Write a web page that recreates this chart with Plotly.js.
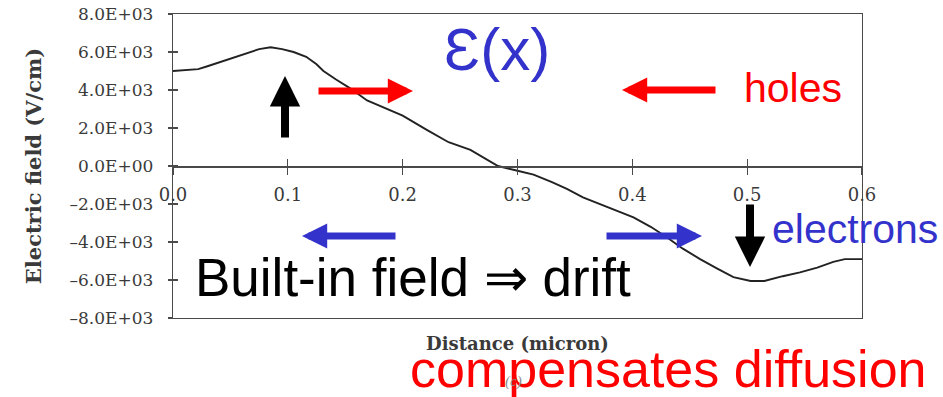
<!DOCTYPE html>
<html>
<head>
<meta charset="utf-8">
<script src="https://cdn.plot.ly/plotly-3.0.1.min.js"></script>
<style>html,body{margin:0;padding:0;background:#fff;}#chart{width:943px;height:397px;}</style>
</head>
<body>
<div id="chart"></div>
<script>
// Data
const distance = [0.000,0.010,0.022,0.030,0.045,0.060,0.075,0.085,0.095,0.105,0.116,0.125,0.131,0.142,0.154,0.169,0.185,0.200,0.221,0.240,0.259,0.283,0.300,0.314,0.330,0.343,0.357,0.372,0.386,0.401,0.416,0.430,0.444,0.459,0.474,0.488,0.503,0.515,0.531,0.546,0.561,0.575,0.585,0.600];
const field = [5000,5050,5100,5250,5550,5850,6150,6250,6150,6000,5750,5350,5000,4550,4100,3450,3050,2650,1900,1250,850,0,-250,-450,-850,-1200,-1650,-2000,-2350,-2700,-3200,-3750,-4350,-4900,-5400,-5850,-6050,-6050,-5800,-5600,-5350,-5050,-4900,-4900];
const xTickVals = [0,0.1,0.2,0.3,0.4,0.5,0.6];
const xTickText = ["0.0","0.1","0.2","0.3","0.4","0.5","0.6"];
const yTickVals = [8000,6000,4000,2000,0,-2000,-4000,-6000,-8000];
const yTickText = ["8.0E+03","6.0E+03","4.0E+03","2.0E+03","0.0E+00","\u20132.0E+03","\u20134.0E+03","\u20136.0E+03","\u20138.0E+03"];

const L = 173, R = 862, T = 14, B = 318;
const px = v => (v - L) / (R - L);
const py = v => (B - v) / (B - T);

const tickFont = {family: "DejaVu Serif", size: 17, color: "#3a3a3a"};
const axCol = "#4a4a4a";
const blue = "#3333cc", red = "#ff0000";

const traces = [
  {x: distance, y: field, type: "scatter", mode: "lines", line: {color: "#222222", width: 1.9}, hoverinfo: "skip", showlegend: false}
];

function arrow(tipX, tipY, ax, ay, color, w, s) {
  return {xref: "paper", yref: "paper", x: px(tipX), y: py(tipY), ax: ax, ay: ay, text: "",
    showarrow: true, arrowhead: 2, arrowwidth: w, arrowsize: s, arrowcolor: color, standoff: 0, startstandoff: 0};
}
function label(text, cx, cy, size, color, extra) {
  return Object.assign({xref: "paper", yref: "paper", x: px(cx), y: py(cy), text: text, showarrow: false,
    xanchor: "center", yanchor: "middle", font: {family: "Liberation Sans, Arial", size: size, color: color}}, extra || {});
}

const layout = {
  width: 943, height: 397,
  margin: {l: L, r: 943 - R, t: T, b: 397 - B, pad: 0},
  paper_bgcolor: "#ffffff", plot_bgcolor: "#ffffff",
  showlegend: false,
  xaxis: {range: [0, 0.6], anchor: "free", position: 0.5, tickvals: xTickVals, ticktext: xTickText,
    ticks: "outside", ticklen: 7, tickwidth: 1.2, tickcolor: axCol, showline: true, linecolor: axCol, linewidth: 1.5,
    showgrid: false, zeroline: false, tickfont: {family: "DejaVu Serif", size: 18, color: "#3a3a3a"}, ticklabelstandoff: 5, fixedrange: true},
  xaxis2: {range: [0, 0.6], overlaying: "x", anchor: "free", position: 0.5, tickvals: xTickVals,
    ticks: "inside", ticklen: 7, tickwidth: 1.2, tickcolor: axCol, showticklabels: false, showline: false,
    showgrid: false, zeroline: false},
  xaxis3: {range: [0, 0.6], overlaying: "x", anchor: "y", side: "bottom", showline: true, mirror: true,
    linecolor: axCol, linewidth: 1.3, ticks: "", showticklabels: false, showgrid: false, zeroline: false,
    title: {text: "Distance (micron)", font: {family: "DejaVu Serif", size: 18, color: "#3a3a3a", weight: "bold"}, standoff: 19}},
  yaxis: {range: [-8000, 8000], tickvals: yTickVals, ticktext: yTickText, ticks: "outside", ticklen: 4, tickwidth: 1.2,
    tickcolor: axCol, showline: true, mirror: true, linecolor: axCol, linewidth: 1.3, showgrid: false, zeroline: false,
    tickfont: tickFont, ticklabelstandoff: 11, fixedrange: true,
    title: {text: "Electric field (V/cm)", font: {family: "DejaVu Serif", size: 21, color: "#3a3a3a", weight: "bold"}, standoff: 22}},
  yaxis2: {range: [-8000, 8000], overlaying: "y", anchor: "x", side: "left", tickvals: yTickVals, ticks: "inside", ticklen: 5,
    tickwidth: 1.2, tickcolor: axCol, showticklabels: false, showgrid: false, zeroline: false},
  annotations: [
    arrow(285, 76, 0, 63, "#000000", 8, 0.76),
    arrow(413, 91, -96, 0, red, 7, 0.72),
    arrow(622, 90, 95, 0, red, 7, 0.72),
    arrow(302, 236, 95, 0, blue, 7, 0.72),
    arrow(702, 236, -97, 0, blue, 7, 0.72),
    arrow(750, 267, 0, -64, "#000000", 8, 0.76),
    label("\u0190(x)", 497, 49, 60, blue),
    label("holes", 793, 88, 41, red),
    label("electrons", 855, 229, 41, blue),
    label("Built-in field \u21D2 drift", 413, 277, 53, "#000000"),
    label("compensates diffusion", 668, 369, 52, red),
    {xref: "paper", yref: "paper", x: px(513), y: py(381), text: "(c)", showarrow: false, xanchor: "center", yanchor: "middle",
      font: {family: "Liberation Serif", size: 15, color: "#8a8a8a", style: "italic"}}
  ]
};

// invisible helper traces so overlay axes are instantiated
traces.push({x: [0, 0.6], y: [0, 0], xaxis: "x2", yaxis: "y2", mode: "lines", line: {width: 0}, opacity: 0, hoverinfo: "skip", showlegend: false});
traces.push({x: [0, 0.6], y: [0, 0], xaxis: "x3", yaxis: "y", mode: "lines", line: {width: 0}, opacity: 0, hoverinfo: "skip", showlegend: false});

Plotly.newPlot("chart", traces, layout, {displayModeBar: false, staticPlot: true});
</script>
</body>
</html>
